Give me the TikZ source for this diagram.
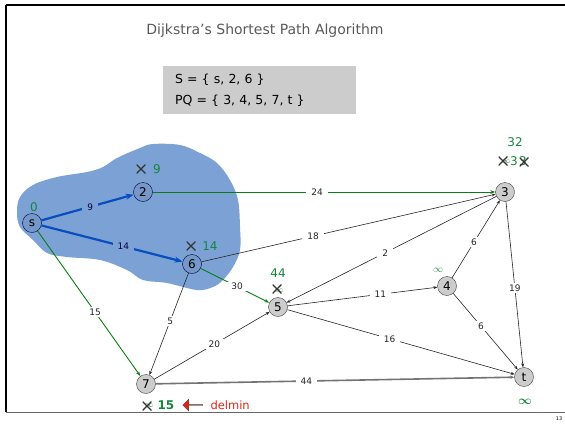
\documentclass[tikz,border=0pt]{standalone}
\usepackage{amsmath}
\usepackage{fontspec}
\setmainfont{DejaVu Sans}
\usetikzlibrary{arrows.meta,positioning,shapes.arrows}
\definecolor{blobblue}{RGB}{124,162,213}
\definecolor{treeblue}{RGB}{8,78,190}
\definecolor{candgreen}{RGB}{10,125,20}
\definecolor{distgreen}{RGB}{20,135,60}
\definecolor{boxgray}{RGB}{204,204,204}
\definecolor{delred}{RGB}{225,35,20}
\tikzset{
    vertex/.style={circle, draw=black!75, fill=boxgray, inner sep=0pt, minimum size=19pt, font=\fontsize{12}{12}\selectfont},
    setvertex/.style={vertex, draw=blue!25!black, fill=blobblue!94!black},
    edgearrow/.style={-{Stealth[length=4pt,width=3pt]}, black!85, line width=0.6pt},
    treearrow/.style={-{Stealth[length=8pt,width=6pt]}, treeblue, line width=2.2pt},
    candarrow/.style={-{Stealth[length=5pt,width=3.5pt]}, candgreen, line width=0.9pt},
    weight/.style={fill=white, text=black!85, inner xsep=5pt, inner ysep=1.5pt, font=\fontsize{9}{9}\selectfont},
    setweight/.style={weight, fill=blobblue, text=blue!30!black},
    dist/.style={text=distgreen, inner sep=0pt, font=\fontsize{12}{12}\selectfont},
    crossmark/.style={minimum size=9pt, inner sep=0pt,
        path picture={\draw[black!80, line width=1.1pt]
            (path picture bounding box.north west) -- (path picture bounding box.south east)
            (path picture bounding box.south west) -- (path picture bounding box.north east);}}
}

\begin{document}
\begin{tikzpicture}[x=1pt, y=-1pt]
    \useasboundingbox (0,0) rectangle (565,426);
    % slide frame
    \draw[line width=1.5pt] (6,5) -- (565,5);
    \draw[line width=2.5pt] (6,5) -- (6,412);
    \draw[black!60, line width=1pt] (6,412) -- (565,412);

    \node[text=black!65, font=\fontsize{14}{14}\selectfont] (title) at (265,31) {Dijkstra's Shortest Path Algorithm};
    \node[fill=boxgray, text width=169pt, inner xsep=12pt, minimum height=48pt, align=left,
          font=\fontsize{12.5}{21}\selectfont] (sets) at (259.5,90) {S = \{ s, 2, 6 \}\\PQ = \{ 3, 4, 5, 7, t \}};

    % explored set S
    \fill[blobblue] plot[smooth cycle, tension=0.6] coordinates {
        (17,212) (20,197) (33,185) (57,177) (87,172) (103,167) (117,158) (140,148)
        (153,144) (180,145) (200,153) (217,163) (230,180) (238,200) (240,227)
        (240,250) (233,267) (223,280) (213,287) (197,290) (167,283) (143,280)
        (127,270) (100,260) (67,257) (47,253) (33,240) (20,227)};

    \node[setvertex] (s) at (32,223) {s};
    \node[setvertex] (2) at (143,192) {2};
    \node[setvertex] (6) at (192,264) {6};
    \node[vertex] (3) at (505,192) {3};
    \node[vertex] (4) at (447,286) {4};
    \node[vertex] (5) at (278,307) {5};
    \node[vertex] (7) at (146,384) {7};
    \node[vertex] (t) at (524,377) {t};

    \draw[treearrow] (s) -- node[setweight, pos=0.53] {9} (2);
    \draw[treearrow] (s) -- node[setweight, pos=0.58] {14} (6);
    \draw[candarrow] (s) -- node[weight, pos=0.56] {15} (7);
    \draw[candarrow] (2) -- node[weight, pos=0.48] {24} (3);
    \draw[candarrow] (6) -- node[weight, pos=0.53] {30} (5);
    \draw[edgearrow] (6) -- node[weight, pos=0.38] {18} (3);
    \draw[edgearrow] (6) -- node[weight, pos=0.47] {5} (7);
    \draw[edgearrow] (3) -- node[weight, pos=0.53] {2} (5);
    \draw[edgearrow] (3) -- node[weight, pos=0.52] {19} (t);
    \draw[edgearrow] (4) -- node[weight, pos=0.46] {6} (3);
    \draw[edgearrow] (5) -- node[weight, pos=0.62] {11} (4);
    \draw[edgearrow] (4) -- node[weight, pos=0.43] {6} (t);
    \draw[edgearrow] (5) -- node[weight, pos=0.45] {16} (t);
    \draw[edgearrow] (7) -- node[weight, pos=0.52] {20} (5);
    \draw[edgearrow, black!55, line width=1.6pt] (7) -- node[weight, pos=0.42] {44} (t);

    % distance labels
    \node[dist] (d-s) at (34,207) {0};
    \node[crossmark] (x-2) at (141,169) {};
    \node[dist] (d-2) at (157,169) {9};
    \node[crossmark] (x-6) at (191,246) {};
    \node[dist] (d-6) at (210,246) {14};
    \node[dist] (d-3) at (515,142) {32};
    \node[dist, font=\fontsize{8}{8}\selectfont] (i-3) at (506,162) {$\infty$};
    \node[crossmark] (x-3) at (503,161) {};
    \node[dist] (d-3a) at (514,161) {3};
    \node[dist] (d-3b) at (523,161) {3};
    \node[crossmark] (xx-3) at (524,162) {};
    \node[dist] (d-5) at (278,273) {44};
    \node[dist, font=\fontsize{8}{8}\selectfont] (i-5) at (279,291) {$\infty$};
    \node[crossmark] (x-5) at (277,289) {};
    \node[dist, font=\fontsize{10}{10}\selectfont] (d-4) at (438,270) {$\infty$};
    \node[dist, font=\fontsize{12}{12}\selectfont] (d-t) at (525,402) {$\boldsymbol{\infty}$};

    \node[single arrow, shape border rotate=180, fill=delred, draw=black!70, minimum height=20pt,
          minimum width=12pt, single arrow head extend=2.5pt, inner sep=0pt] (delarrow) at (193,405) {};
    \node[text=delred, font=\fontsize{11.5}{11.5}\selectfont, right=4pt of delarrow] (delmin) {delmin};
    \node[dist, font=\bfseries\fontsize{12}{12}\selectfont, left=8pt of delarrow] (d-7) {15};
    \node[dist, font=\fontsize{8}{8}\selectfont] (i-7) at (149,406) {$\infty$};
    \node[crossmark] (x-7) at (147,406) {};

    \node[font=\fontsize{5}{5}\selectfont] (page) at (559,419) {13};
\end{tikzpicture}
\end{document}
